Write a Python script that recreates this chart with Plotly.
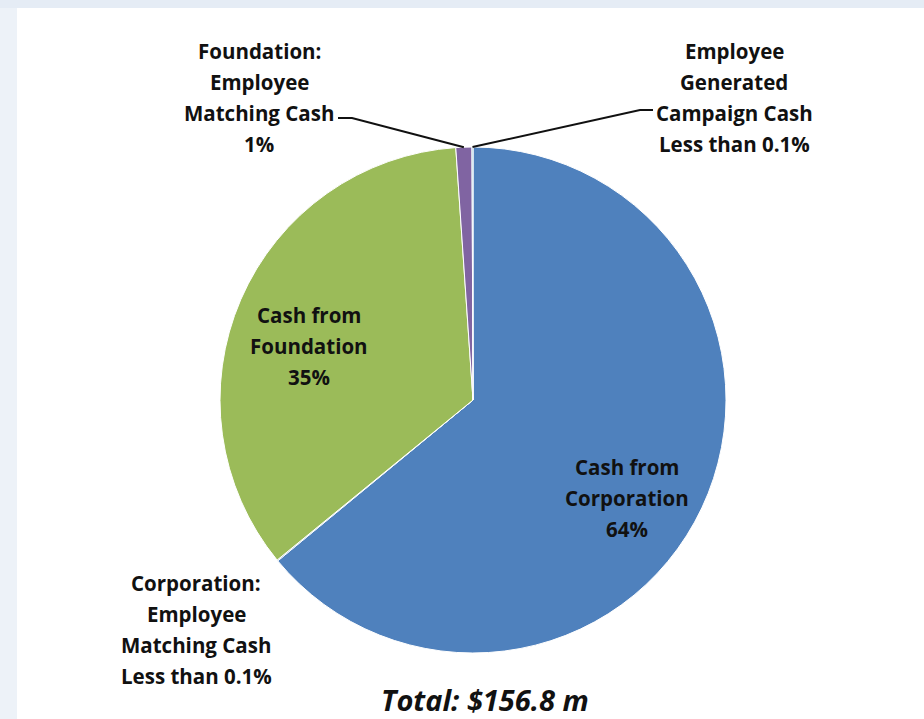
import math
import plotly.graph_objects as go

# Cash contributions, $ millions
categories = [
    "Cash from Corporation",
    "Corporation: Employee Matching Cash",
    "Cash from Foundation",
    "Foundation: Employee Matching Cash",
    "Employee Generated Campaign Cash",
]
values_m = [100.4, 0.1, 54.6, 1.6, 0.1]
pct_labels = ["64%", "Less than 0.1%", "35%", "1%", "Less than 0.1%"]
colors = ["#4f81bd", "#4f81bd", "#9bbb59", "#8064a2", "#4bacc6"]
total_label = "Total: $156.8 m"

# label text broken into lines (percentage appended as last line)
label_lines = [
    ["Cash from", "Corporation"],
    ["Corporation:", "Employee", "Matching Cash"],
    ["Cash from", "Foundation"],
    ["Foundation:", "Employee", "Matching Cash"],
    ["Employee", "Generated", "Campaign Cash"],
]

W, H = 924, 719
CX, CY, R = 473, 400, 253          # pie centre / radius in pixels
FONT = "Open Sans, Calibri, Carlito, sans-serif"
LINE_PITCH = 31


def px(x):
    return x / W


def py(y):
    return 1 - y / H


fig = go.Figure(
    go.Pie(
        labels=categories,
        values=values_m,
        sort=False,
        direction="clockwise",
        rotation=0,
        marker=dict(colors=colors, line=dict(color="white", width=1)),
        textinfo="none",
        hoverinfo="label+percent",
        showlegend=False,
        domain=dict(x=[px(CX - R), px(CX + R)], y=[py(CY + R), py(CY - R)]),
    )
)

# label anchor (centre of first line) in pixels
label_pos = [(627, 467), (196, 583), (309, 315), (259, 51), (734, 51)]

annotations = []
for lines, pct, (lx, ly) in zip(label_lines, pct_labels, label_pos):
    for i, t in enumerate(lines + [pct]):
        annotations.append(dict(
            x=px(lx), y=py(ly + i * LINE_PITCH), xref="paper", yref="paper",
            text=f"<b>{t}</b>", showarrow=False, xanchor="center", yanchor="middle",
            font=dict(family=FONT, size=20.5, color="#111111"),
        ))

annotations.append(dict(
    x=px(485), y=py(699), xref="paper", yref="paper",
    text=f"<b><i>{total_label}</i></b>", showarrow=False,
    xanchor="center", yanchor="middle",
    font=dict(family=FONT, size=29, color="#111111"),
))


def slice_edge_point(idx):
    """Pixel point on the rim at the middle of slice idx."""
    total = sum(values_m)
    start = sum(values_m[:idx]) / total
    mid = start + values_m[idx] / total / 2
    ang = mid * 2 * math.pi                    # clockwise from 12 o'clock
    return CX + R * math.sin(ang), CY - R * math.cos(ang)


def path(points):
    return "M " + " L ".join(f"{px(x)},{py(y)}" for x, y in points)


ex3, ey3 = slice_edge_point(3)
ex4, ey4 = slice_edge_point(4)

shapes = [
    # light blue frame strips
    dict(type="rect", xref="paper", yref="paper", x0=0, x1=px(17), y0=0, y1=1,
         fillcolor="#edf2f8", line=dict(width=0), layer="below"),
    dict(type="rect", xref="paper", yref="paper", x0=0, x1=1, y0=py(8), y1=1,
         fillcolor="#e5ecf5", line=dict(width=0), layer="below"),
    # leader lines
    dict(type="path", xref="paper", yref="paper",
         path=path([(338, 118), (352, 118), (ex3, ey3)]),
         line=dict(color="#111111", width=2)),
    dict(type="path", xref="paper", yref="paper",
         path=path([(653, 110), (640, 110), (ex4, ey4)]),
         line=dict(color="#111111", width=2)),
]

fig.update_layout(
    width=W, height=H,
    margin=dict(l=0, r=0, t=0, b=0),
    paper_bgcolor="white",
    plot_bgcolor="white",
    annotations=annotations,
    shapes=shapes,
)

fig.write_html("out.html")
